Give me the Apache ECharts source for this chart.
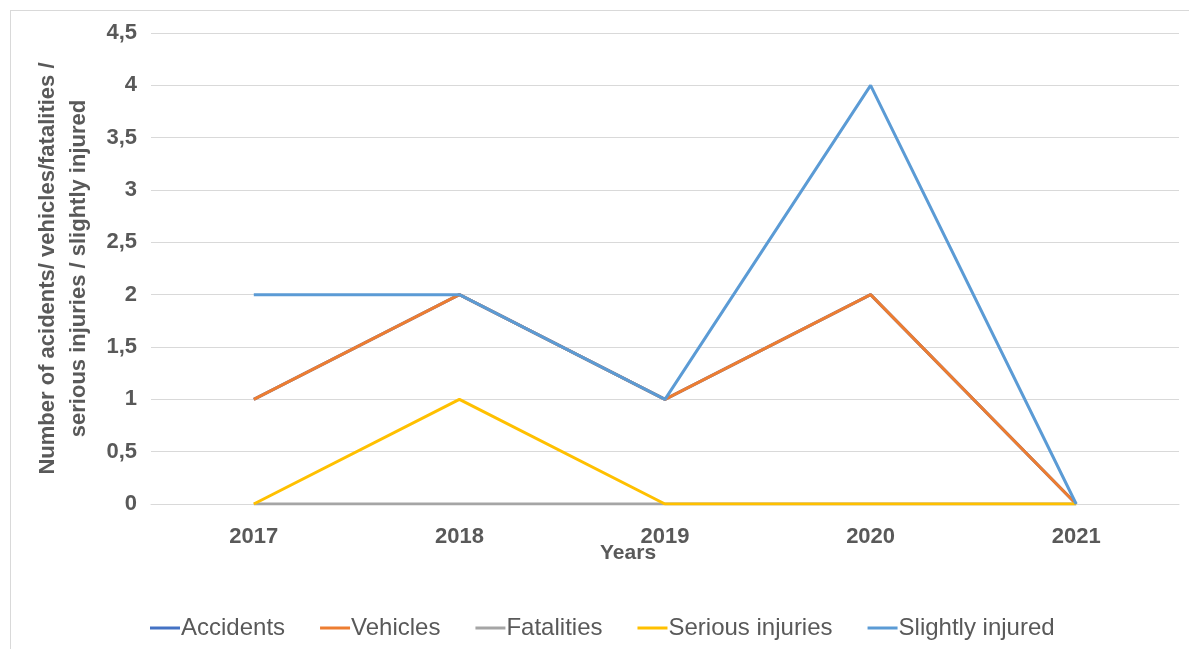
<!DOCTYPE html>
<html><head><meta charset="utf-8">
<script src="https://cdn.jsdelivr.net/npm/echarts@6/dist/echarts.min.js"></script>
<style>
html,body{margin:0;padding:0;background:#fff;}
#frame{position:absolute;left:10px;top:10px;width:1185px;height:645px;border:1px solid #d9d9d9;box-sizing:border-box;}
#chart{position:absolute;left:0;top:0;width:1189px;height:649px;}
</style></head>
<body>
<div id="frame"></div>
<div id="chart"></div>
<script>
const years = ['2017','2018','2019','2020','2021'];
const accidents = [1,2,1,2,0];
const vehicles = [1,2,1,2,0];
const fatalities = [0,0,0,0,0];
const seriousInjuries = [0,1,0,0,0];
const slightlyInjured = [2,2,1,4,0];
const yTicks = {min:0, max:4.5, interval:0.5};

const font = '"Liberation Sans",Arial,sans-serif';
const chart = echarts.init(document.getElementById('chart'));
function s(name, data, color){
  return {name, type:'line', data, symbol:'none', lineStyle:{width:3, color}, itemStyle:{color}};
}
chart.setOption({
  animation:false,
  grid:{left:151, right:10, top:33, bottom:145, containLabel:false},
  xAxis:{type:'category', data:years, boundaryGap:true,
    axisLine:{lineStyle:{color:'#d9d9d9', width:1}}, axisTick:{show:false},
    axisLabel:{color:'#595959', fontSize:22, fontWeight:'bold', fontFamily:font, margin:22}},
  yAxis:{type:'value', min:yTicks.min, max:yTicks.max, interval:yTicks.interval,
    axisLine:{show:false}, axisTick:{show:false},
    splitLine:{lineStyle:{color:'#d9d9d9', width:1}},
    axisLabel:{color:'#595959', fontSize:22, fontWeight:'bold', fontFamily:font, margin:14,
      formatter:v=>String(v).replace('.',',')},
    name:'Number of acidents/ vehicles/fatalities /\nserious injuries / slightly injured',
    nameLocation:'middle', nameGap:57, nameRotate:90,
    nameTextStyle:{color:'#595959', fontSize:22, fontWeight:'bold', fontFamily:font, lineHeight:31}},
  legend:{bottom:4, left:145, itemWidth:30, itemHeight:3, itemGap:35, icon:'rect',
    textStyle:{color:'#595959', fontSize:24, fontFamily:font, padding:[0,0,0,-4]},
    data:['Accidents','Vehicles','Fatalities','Serious injuries','Slightly injured']},
  graphic:[{type:'text', left:600, top:543, style:{text:'Years', fill:'#595959', font:'bold 21px '+font}}],
  series:[
    s('Accidents', accidents, '#4472C4'),
    s('Vehicles', vehicles, '#ED7D31'),
    s('Fatalities', fatalities, '#A5A5A5'),
    s('Serious injuries', seriousInjuries, '#FFC000'),
    s('Slightly injured', slightlyInjured, '#5B9BD5')
  ]
});
</script>
</body></html>
